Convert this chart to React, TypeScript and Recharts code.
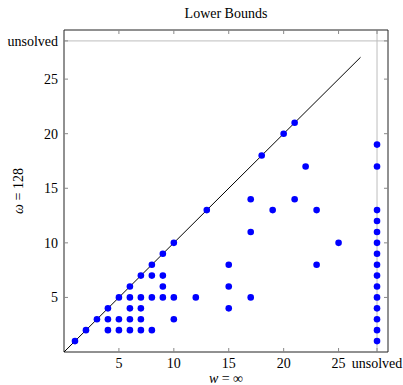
import React from 'react';
import { ScatterChart, Scatter, XAxis, YAxis, ReferenceLine, Label } from 'recharts';

const UNSOLVED = 28.5;
const AXIS_MAX = 29.5;

// w = ∞ (x) vs ω = 128 (y); "unsolved" encoded as UNSOLVED
const pointX = [
  1, 2, 3, 4, 5, 6, 7, 8, 9, 10, 13, 18, 20, 21,
  4, 5, 6, 7, 8,
  4, 5, 6, 7, 10,
  6, 7, 15,
  6, 7, 8, 9, 10, 12, 17,
  9, 15,
  8, 9,
  15, 23,
  17, 25, 19, 23, 17, 21, 22,
  UNSOLVED, UNSOLVED, UNSOLVED, UNSOLVED, UNSOLVED, UNSOLVED, UNSOLVED, UNSOLVED,
  UNSOLVED, UNSOLVED, UNSOLVED, UNSOLVED, UNSOLVED, UNSOLVED, UNSOLVED,
];
const pointY = [
  1, 2, 3, 4, 5, 6, 7, 8, 9, 10, 13, 18, 20, 21,
  2, 2, 2, 2, 2,
  3, 3, 3, 3, 3,
  4, 4, 4,
  5, 5, 5, 5, 5, 5, 5,
  6, 6,
  7, 7,
  8, 8,
  11, 10, 13, 13, 14, 14, 17,
  1, 2, 3, 4, 5, 6, 7, 8,
  9, 10, 11, 12, 13, 17, 19,
];

const diagX = [0, 27];
const diagY = [0, 27];

const axisTicks = [5, 10, 15, 20, 25, UNSOLVED];
const tickText = ['5', '10', '15', '20', '25', 'unsolved'];

const points = pointX.map((x, i) => ({ x, y: pointY[i] }));
const diag = diagX.map((x, i) => ({ x, y: diagY[i] }));

const FONT = '"Liberation Serif", "Times New Roman", serif';
const fmt = (v: number) => {
  const i = axisTicks.indexOf(v);
  return i >= 0 ? tickText[i] : String(v);
};

const tickStyle = { fontFamily: FONT, fontSize: 14, fill: '#000' };

const Dot = (props: any) => <circle cx={props.cx} cy={props.cy} r={3.3} fill="#0000ff" />;
const NoDot = () => <g />;
const NoTick = () => <g />;

export default function App() {
  return (
    <div style={{ position: 'absolute', left: 0, top: 0, width: 403, height: 385, background: '#fff' }}>
      <ScatterChart width={403} height={385} margin={{ top: 29, right: 14, bottom: 0, left: 0 }}>
        <XAxis
          xAxisId="b"
          type="number"
          dataKey="x"
          domain={[0, AXIS_MAX]}
          allowDataOverflow
          ticks={axisTicks}
          tickFormatter={fmt}
          interval={0}
          height={33}
          tickSize={-4}
          tickMargin={10}
          tick={tickStyle}
          axisLine={{ stroke: '#222', strokeWidth: 1 }}
          tickLine={{ stroke: '#888' }}
        >
          <Label
            content={(p: any) => {
              const vb = p.viewBox || {};
              return (
                <text x={vb.x + vb.width / 2} y={vb.y + 31} textAnchor="middle" fontFamily={FONT} fontSize={14} fill="#000">
                  <tspan fontStyle="italic">w</tspan>
                  <tspan> = ∞</tspan>
                </text>
              );
            }}
          />
        </XAxis>
        <XAxis
          xAxisId="t"
          orientation="top"
          type="number"
          dataKey="x"
          domain={[0, AXIS_MAX]}
          allowDataOverflow
          ticks={axisTicks}
          interval={0}
          height={1}
          tickSize={-4}
          tick={NoTick}
          axisLine={{ stroke: '#222', strokeWidth: 1 }}
          tickLine={{ stroke: '#888' }}
        >
          <Label
            content={(p: any) => {
              const vb = p.viewBox || {};
              return (
                <text x={vb.x + vb.width / 2} y={vb.y - 11} textAnchor="middle" fontFamily={FONT} fontSize={14} fill="#000">
                  Lower Bounds
                </text>
              );
            }}
          />
        </XAxis>
        <YAxis
          yAxisId="l"
          type="number"
          dataKey="y"
          domain={[0, AXIS_MAX]}
          allowDataOverflow
          ticks={axisTicks}
          tickFormatter={fmt}
          interval={0}
          width={64}
          tickSize={-4}
          tickMargin={10}
          tick={tickStyle}
          axisLine={{ stroke: '#222', strokeWidth: 1 }}
          tickLine={{ stroke: '#888' }}
        >
          <Label
            content={(p: any) => {
              const vb = p.viewBox || {};
              const cx = vb.x + 23;
              const cy = vb.y + vb.height / 2;
              return (
                <text x={cx} y={cy} textAnchor="middle" transform={`rotate(-90, ${cx}, ${cy})`} fontFamily={FONT} fontSize={14} fill="#000">
                  <tspan fontStyle="italic">ω</tspan>
                  <tspan> = 128</tspan>
                </text>
              );
            }}
          />
        </YAxis>
        <YAxis
          yAxisId="r"
          orientation="right"
          type="number"
          dataKey="y"
          domain={[0, AXIS_MAX]}
          allowDataOverflow
          ticks={axisTicks}
          interval={0}
          width={1}
          tickSize={-4}
          tick={NoTick}
          axisLine={{ stroke: '#222', strokeWidth: 1 }}
          tickLine={{ stroke: '#888' }}
        />
        <ReferenceLine xAxisId="b" yAxisId="l" x={UNSOLVED} stroke="#bdbdbd" strokeWidth={1} />
        <ReferenceLine xAxisId="b" yAxisId="l" y={UNSOLVED} stroke="#bdbdbd" strokeWidth={1} />
        <Scatter
          xAxisId="t"
          yAxisId="r"
          data={diag}
          line={{ stroke: '#000', strokeWidth: 1 }}
          lineType="joint"
          shape={NoDot}
          isAnimationActive={false}
        />
        <Scatter xAxisId="b" yAxisId="l" data={points} shape={Dot} isAnimationActive={false} />
      </ScatterChart>
    </div>
  );
}
